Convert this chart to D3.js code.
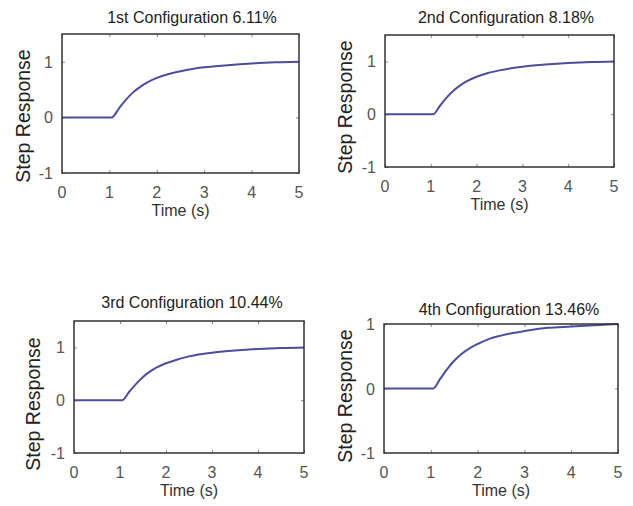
<!DOCTYPE html>
<html>
<head>
<meta charset="utf-8">
<script src="https://cdn.jsdelivr.net/npm/d3@7"></script>
<style>
  body { margin: 0; background: #fff; }
  text { font-family: "Liberation Sans", Arial, sans-serif; }
</style>
</head>
<body>
<div id="chart"></div>
<script>
// data
var titles = ["1st Configuration 6.11%", "2nd Configuration 8.18%", "3rd Configuration 10.44%", "4th Configuration 13.46%"];
var time = [0, 1.05, 1.2, 1.35, 1.5, 1.65, 1.8, 2, 2.25, 2.5, 2.75, 3, 3.5, 4, 4.5, 5];
var resp1 = [0, 0, 0.16, 0.32, 0.45, 0.55, 0.63, 0.71, 0.78, 0.83, 0.87, 0.9, 0.94, 0.97, 0.99, 1.0];
var resp2 = [0, 0, 0.16, 0.32, 0.45, 0.55, 0.63, 0.71, 0.78, 0.83, 0.87, 0.9, 0.94, 0.97, 0.99, 1.0];
var resp3 = [0, 0, 0.16, 0.31, 0.44, 0.54, 0.62, 0.7, 0.77, 0.83, 0.87, 0.9, 0.94, 0.97, 0.99, 1.0];
var resp4 = [0, 0, 0.15, 0.3, 0.43, 0.53, 0.61, 0.69, 0.77, 0.82, 0.86, 0.89, 0.94, 0.96, 0.98, 1.0];
var responses = [resp1, resp2, resp3, resp4];
var xTicks = [0, 1, 2, 3, 4, 5];
var yTicks = [-1, 0, 1];
var yMax = [1.5, 1.5, 1.5, 1];

// panel boxes (layout only)
var panels = [
  { left: 62, right: 299, top: 34, bottom: 173, titleX: 192, titleY: 23, ylabX: 23, ylabY: 116 },
  { left: 385, right: 614, top: 35, bottom: 167, titleX: 506, titleY: 23, ylabX: 345, ylabY: 107 },
  { left: 74, right: 304, top: 321, bottom: 453, titleX: 192, titleY: 308, ylabX: 33, ylabY: 404 },
  { left: 384, right: 618, top: 324, bottom: 453, titleX: 509, titleY: 315, ylabX: 345, ylabY: 396 }
];

var svg = d3.select("#chart")
  .append("svg")
  .attr("width", 633)
  .attr("height", 506);

panels.forEach(function (p, i) {
  var x = d3.scaleLinear().domain([0, 5]).range([p.left, p.right]);
  var y = d3.scaleLinear().domain([-1, yMax[i]]).range([p.bottom, p.top]);
  var g = svg.append("g");

  // inner ticks (bottom/top, left/right)
  var bottomAxis = d3.axisBottom(x).tickValues(xTicks).tickSize(-3).tickFormat("");
  var topAxis = d3.axisTop(x).tickValues(xTicks).tickSize(-3).tickFormat("");
  var leftAxis = d3.axisLeft(y).tickValues(yTicks).tickSize(-3).tickFormat("");
  var rightAxis = d3.axisRight(y).tickValues(yTicks).tickSize(-3).tickFormat("");
  [[bottomAxis, `translate(0,${p.bottom})`], [topAxis, `translate(0,${p.top})`],
   [leftAxis, `translate(${p.left},0)`], [rightAxis, `translate(${p.right},0)`]].forEach(function (a) {
    var ax = g.append("g").attr("transform", a[1]).call(a[0]);
    ax.select(".domain").remove();
    ax.selectAll("line").attr("stroke", "#888").attr("stroke-width", 1);
  });

  // tick labels
  g.selectAll(".xl").data(xTicks).enter().append("text")
    .attr("x", d => x(d))
    .attr("y", p.bottom + 25)
    .attr("text-anchor", "middle")
    .style("font-size", "16px")
    .style("fill", "#555")
    .text(d => d);
  g.selectAll(".yl").data(yTicks).enter().append("text")
    .attr("x", p.left - 9)
    .attr("y", d => y(d) + 6)
    .attr("text-anchor", "end")
    .style("font-size", "16px")
    .style("fill", "#555")
    .text(d => d);

  // step response line
  var pts = time.map((t, k) => [t, responses[i][k]]);
  g.append("path")
    .datum(pts)
    .attr("fill", "none")
    .attr("stroke", "#4d4da0")
    .attr("stroke-width", 2)
    .attr("d", d3.line().x(d => x(d[0])).y(d => y(d[1])).curve(d3.curveMonotoneX));

  // box
  g.append("rect")
    .attr("x", p.left)
    .attr("y", p.top)
    .attr("width", p.right - p.left)
    .attr("height", p.bottom - p.top)
    .attr("fill", "none")
    .attr("stroke", "#333")
    .attr("stroke-width", 1.5);

  // title and axis labels
  g.append("text")
    .attr("x", p.titleX)
    .attr("y", p.titleY)
    .attr("text-anchor", "middle")
    .style("font-size", "16px")
    .style("fill", "#222")
    .text(titles[i]);

  g.append("text")
    .attr("x", (p.left + p.right) / 2)
    .attr("y", p.bottom + 43)
    .attr("text-anchor", "middle")
    .style("font-size", "16px")
    .style("fill", "#333")
    .text("Time (s)");

  g.append("text")
    .attr("transform", `translate(${p.ylabX + 7},${p.ylabY}) rotate(-90)`)
    .attr("text-anchor", "middle")
    .style("font-size", "19.5px")
    .style("fill", "#222")
    .text("Step Response");
});
</script>
</body>
</html>
